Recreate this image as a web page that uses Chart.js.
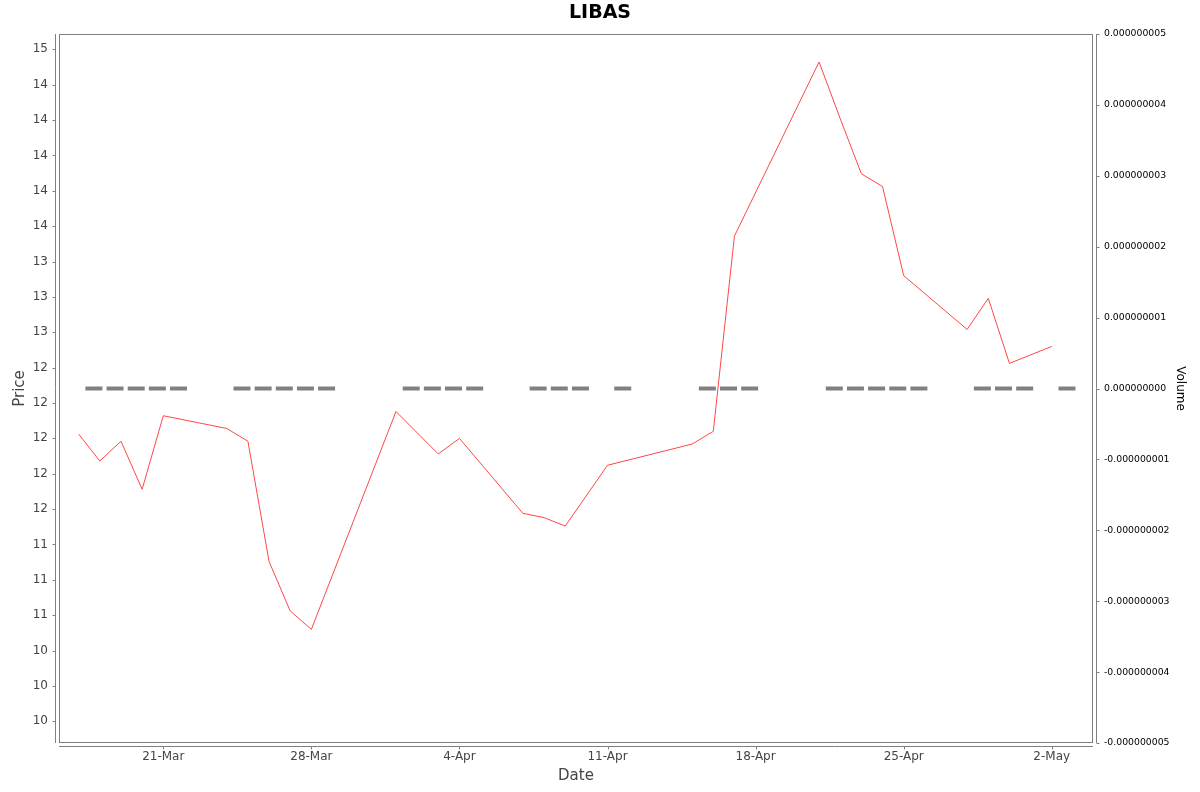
<!DOCTYPE html>
<html>
<head>
<meta charset="utf-8">
<title>LIBAS</title>
<script src="https://cdn.jsdelivr.net/npm/chart.js@4.4.1/dist/chart.umd.min.js"></script>
<style>
  html, body { margin: 0; padding: 0; background: #ffffff; }
  #wrap { width: 1200px; height: 792px; position: relative; }
</style>
</head>
<body>
<div id="wrap"><canvas id="priceChart"></canvas></div>
<script>
// Trading days shown on the chart
var dates = [
    "2025-03-17", "2025-03-18", "2025-03-19", "2025-03-20", "2025-03-21",
    "2025-03-24", "2025-03-25", "2025-03-26", "2025-03-27", "2025-03-28",
    "2025-04-01", "2025-04-02", "2025-04-03", "2025-04-04",
    "2025-04-07", "2025-04-08", "2025-04-09", "2025-04-11",
    "2025-04-15", "2025-04-16", "2025-04-17",
    "2025-04-21", "2025-04-22", "2025-04-23", "2025-04-24", "2025-04-25",
    "2025-04-28", "2025-04-29", "2025-04-30", "2025-05-02"
];

// Closing price
var prices = [
    12.03, 11.84, 11.98, 11.64, 12.16,
    12.07, 11.98, 11.13, 10.78, 10.65,
    12.19, 12.04, 11.89, 12.00,
    11.47, 11.44, 11.38, 11.81,
    11.96, 12.05, 13.43,
    14.66, 14.26, 13.87, 13.78, 13.15,
    12.77, 12.99, 12.53, 12.65
];

// Volume (all zero)
var volumes = [
    0, 0, 0, 0, 0,
    0, 0, 0, 0, 0,
    0, 0, 0, 0,
    0, 0, 0, 0,
    0, 0, 0,
    0, 0, 0, 0, 0,
    0, 0, 0, 0
];

var monthNames = ["Jan", "Feb", "Mar", "Apr", "May", "Jun", "Jul", "Aug", "Sep", "Oct", "Nov", "Dec"];
var baseDay = Date.UTC(2025, 2, 0); // day 1 = 1-Mar

function dayNumber(iso) {
    var p = iso.split("-");
    return (Date.UTC(+p[0], +p[1] - 1, +p[2]) - baseDay) / 86400000;
}

function dayLabel(n) {
    var d = new Date(baseDay + n * 86400000);
    return d.getUTCDate() + "-" + monthNames[d.getUTCMonth()];
}

// price labels are rounded to whole numbers (half to even)
function roundHalfEven(v) {
    var f = Math.floor(v);
    if (Math.abs(v - f - 0.5) < 1e-9) return (f % 2 === 0) ? f : f + 1;
    return Math.round(v);
}

var pricePoints = dates.map(function (d, i) { return { x: dayNumber(d), y: prices[i] }; });
// volume bars sit a little right of the trading day
var volumePoints = dates.map(function (d, i) { return { x: dayNumber(d) + 0.72, y: volumes[i] }; });

// plot frame and offset axis lines
var axisFrame = {
    id: "axisFrame",
    beforeDatasetsDraw: function (chart) {
        var ctx = chart.ctx;
        var a = chart.chartArea;
        var gap = 4;
        ctx.save();
        ctx.strokeStyle = "#808080";
        ctx.lineWidth = 1;
        ctx.strokeRect(a.left + 0.5, a.top + 0.5, a.right - a.left - 1, a.bottom - a.top - 1);

        ctx.beginPath();
        // left axis
        var lx = a.left - gap + 0.5;
        ctx.moveTo(lx, a.top); ctx.lineTo(lx, a.bottom);
        chart.scales.y.ticks.forEach(function (t) {
            var py = Math.round(chart.scales.y.getPixelForValue(t.value)) + 0.5;
            ctx.moveTo(lx, py); ctx.lineTo(lx - 3, py);
        });
        // right axis
        var rx = a.right + gap - 0.5;
        ctx.moveTo(rx, a.top); ctx.lineTo(rx, a.bottom);
        chart.scales.yVol.ticks.forEach(function (t) {
            var py = Math.round(chart.scales.yVol.getPixelForValue(t.value)) + 0.5;
            ctx.moveTo(rx, py); ctx.lineTo(rx + 3, py);
        });
        // bottom axis
        var by = a.bottom + gap - 0.5;
        ctx.moveTo(a.left, by); ctx.lineTo(a.right, by);
        chart.scales.x.ticks.forEach(function (t) {
            var px = Math.round(chart.scales.x.getPixelForValue(t.value)) + 0.5;
            ctx.moveTo(px, by); ctx.lineTo(px, by + 3);
        });
        ctx.stroke();
        ctx.restore();
    }
};

var tickFont = { family: "DejaVu Sans", size: 12 };

var config = {
    type: "scatter",
    data: {
        datasets: [
            {
                label: "Price",
                data: pricePoints,
                showLine: true,
                borderColor: "rgb(255,70,70)",
                borderWidth: 1,
                pointRadius: 0,
                pointHoverRadius: 0,
                yAxisID: "y"
            },
            {
                label: "Volume",
                data: volumePoints,
                showLine: false,
                pointStyle: "line",
                pointRadius: 8.5,
                pointHoverRadius: 8.5,
                pointBorderWidth: 4,
                pointBorderColor: "#808080",
                pointBackgroundColor: "#808080",
                yAxisID: "yVol"
            }
        ]
    },
    options: {
        responsive: true,
        maintainAspectRatio: false,
        animation: false,
        layout: { padding: 0 },
        plugins: {
            legend: { display: false },
            tooltip: { enabled: false },
            title: {
                display: true,
                text: "LIBAS",
                color: "#000000",
                font: { family: "DejaVu Sans", size: 19, weight: "bold" },
                padding: { top: 2, bottom: 9.2 }
            }
        },
        scales: {
            x: {
                type: "linear",
                position: "bottom",
                min: 16.07,
                max: 64.95,
                grid: { display: false, drawTicks: false },
                border: { display: false },
                ticks: {
                    stepSize: 7,
                    autoSkip: false,
                    maxRotation: 0,
                    includeBounds: false,
                    padding: 7,
                    color: "#444444",
                    font: tickFont,
                    callback: function (v) { return dayLabel(v); }
                },
                title: {
                    display: true,
                    text: "Date",
                    color: "#444444",
                    font: { family: "DejaVu Sans", size: 15 },
                    padding: { top: 0, bottom: 7 }
                },
                afterFit: function (s) { s.height = 49; }
            },
            y: {
                type: "linear",
                position: "left",
                min: 9.847,
                max: 14.858,
                grid: { display: false, drawTicks: false },
                border: { display: false },
                ticks: {
                    stepSize: 0.25,
                    includeBounds: false,
                    padding: 11,
                    color: "#444444",
                    font: tickFont,
                    callback: function (v) { return String(roundHalfEven(v)); }
                },
                title: {
                    display: true,
                    text: "Price",
                    color: "#444444",
                    font: { family: "DejaVu Sans", size: 15 },
                    padding: { top: 11, bottom: 0 }
                },
                afterFit: function (s) { s.width = 59; }
            },
            yVol: {
                type: "linear",
                position: "right",
                min: -0.000000005,
                max: 0.000000005,
                grid: { display: false, drawTicks: false },
                border: { display: false },
                ticks: {
                    stepSize: 0.000000001,
                    padding: 11,
                    color: "#000000",
                    font: { family: "DejaVu Sans", size: 9.3 },
                    callback: function (v) {
                        if (Math.abs(v) < 1e-15) return "0.000000000";
                        return v.toFixed(9);
                    }
                },
                title: {
                    display: true,
                    text: "Volume",
                    color: "#000000",
                    font: { family: "DejaVu Sans", size: 12 },
                    padding: { top: 12.8, bottom: 0 }
                },
                afterFit: function (s) { s.width = 107; }
            }
        }
    },
    plugins: [axisFrame]
};

var priceChart = new Chart(document.getElementById("priceChart"), config);
</script>
</body>
</html>
